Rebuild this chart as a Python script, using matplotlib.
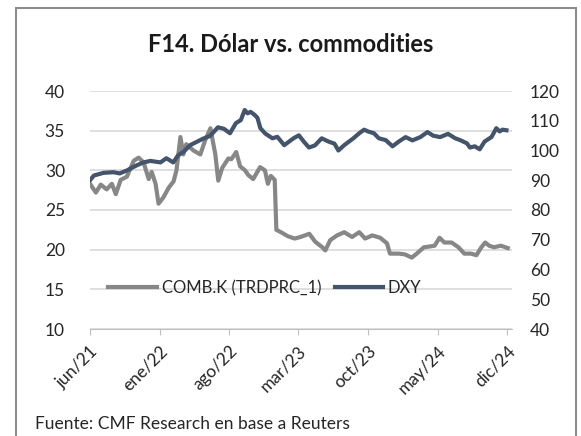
import numpy as np
import pandas as pd
import matplotlib
matplotlib.use('Agg')
import matplotlib.pyplot as plt
from matplotlib.patches import Rectangle

plt.rcParams['font.family'] = ['Lato', 'DejaVu Sans']

# COMB.K (TRDPRC_1) - left axis
comb_dates = [
    '2021-06-01', '2021-06-19', '2021-07-04', '2021-07-22', '2021-08-07', '2021-08-19',
    '2021-09-03', '2021-09-22', '2021-10-13', '2021-10-28', '2021-11-12', '2021-11-28',
    '2021-12-07', '2021-12-19', '2021-12-28', '2022-01-12', '2022-01-28', '2022-02-12',
    '2022-02-21', '2022-03-05', '2022-03-14', '2022-03-23', '2022-04-14', '2022-05-05',
    '2022-05-20', '2022-06-05', '2022-06-20', '2022-06-29', '2022-07-11', '2022-07-30',
    '2022-08-08', '2022-08-23', '2022-09-04', '2022-09-19', '2022-09-29', '2022-10-14',
    '2022-11-04', '2022-11-19', '2022-11-28', '2022-12-07', '2022-12-19', '2022-12-24',
    '2023-01-07', '2023-01-28', '2023-02-18', '2023-03-08', '2023-04-04', '2023-04-22',
    '2023-05-14', '2023-05-23', '2023-06-07', '2023-06-28', '2023-07-20', '2023-08-13',
    '2023-09-04', '2023-09-22', '2023-10-14', '2023-11-07', '2023-11-28', '2023-12-07',
    '2024-01-04', '2024-01-22', '2024-02-12', '2024-02-27', '2024-03-20', '2024-04-07',
    '2024-04-22', '2024-05-07', '2024-05-22', '2024-06-13', '2024-07-04', '2024-07-22',
    '2024-08-12', '2024-08-28', '2024-09-12', '2024-09-24', '2024-10-06', '2024-10-21',
    '2024-11-11', '2024-12-02',
]
comb_values = [
    28.3, 27.2, 28.2, 27.6, 28.3, 27.0,
    28.8, 29.2, 31.2, 31.6, 31.0, 28.9,
    29.8, 28.3, 25.8, 26.6, 27.8, 28.6,
    30.0, 34.2, 32.0, 33.3, 32.5, 32.0,
    33.8, 35.3, 32.0, 28.7, 30.3, 31.5,
    31.4, 32.3, 30.5, 30.0, 29.4, 28.9,
    30.4, 30.0, 28.3, 29.3, 28.8, 22.5,
    22.2, 21.7, 21.4, 21.6, 22.0, 21.0,
    20.3, 19.9, 21.2, 21.8, 22.2, 21.6,
    22.2, 21.4, 21.8, 21.5, 20.8, 19.5,
    19.5, 19.4, 19.0, 19.5, 20.3, 20.4,
    20.5, 21.5, 20.9, 20.9, 20.3, 19.5,
    19.5, 19.3, 20.3, 20.9, 20.5, 20.3,
    20.5, 20.2,
]

# DXY - right axis
dxy_dates = [
    '2021-06-01', '2021-06-13', '2021-07-13', '2021-08-12', '2021-08-31', '2021-09-22',
    '2021-10-22', '2021-11-12', '2021-12-03', '2022-01-03', '2022-01-21', '2022-02-11',
    '2022-02-26', '2022-03-14', '2022-04-04', '2022-04-22', '2022-05-14', '2022-06-04',
    '2022-06-28', '2022-07-16', '2022-08-04', '2022-08-22', '2022-09-06', '2022-09-18',
    '2022-09-27', '2022-10-06', '2022-10-18', '2022-10-27', '2022-11-05', '2022-11-20',
    '2022-12-12', '2022-12-27', '2023-01-17', '2023-02-01', '2023-02-16', '2023-03-03',
    '2023-03-18', '2023-04-03', '2023-04-21', '2023-05-12', '2023-06-02', '2023-06-20',
    '2023-07-02', '2023-07-20', '2023-08-17', '2023-09-04', '2023-09-19', '2023-10-01',
    '2023-10-19', '2023-11-03', '2023-11-24', '2023-12-15', '2024-01-03', '2024-01-24',
    '2024-02-14', '2024-03-09', '2024-03-31', '2024-04-17', '2024-05-09', '2024-06-02',
    '2024-06-24', '2024-07-09', '2024-07-30', '2024-08-08', '2024-08-23', '2024-09-07',
    '2024-09-22', '2024-10-13', '2024-10-28', '2024-11-07', '2024-11-16', '2024-11-28',
]
dxy_values = [
    90.0, 91.6, 92.5, 92.7, 92.3, 93.3,
    95.0, 96.0, 96.5, 96.0, 97.4, 96.0,
    98.4, 99.5, 101.8, 102.8, 104.0, 104.9,
    107.8, 107.3, 105.8, 109.2, 110.2, 113.6,
    112.5, 113.0, 112.0, 111.0, 107.5, 105.7,
    104.1, 104.6, 101.8, 103.0, 104.2, 105.1,
    103.0, 101.0, 101.7, 104.1, 103.0, 102.3,
    100.0, 101.8, 104.1, 105.8, 107.0, 106.4,
    105.8, 104.1, 103.5, 101.4, 103.0, 104.5,
    103.4, 104.5, 106.2, 105.0, 104.5, 105.6,
    104.1, 103.5, 102.4, 101.0, 101.4, 100.4,
    103.0, 104.5, 107.5, 106.4, 107.0, 106.8,
]

tick_dates = ['2021-06-01', '2022-01-01', '2022-08-01', '2023-03-01',
              '2023-10-01', '2024-05-01', '2024-12-01']
tick_labels = ['jun/21', 'ene/22', 'ago/22', 'mar/23', 'oct/23', 'may/24', 'dic/24']

gray = '#878787'
navy = '#44546a'

fig = plt.figure(figsize=(5.81, 4.36), dpi=100)
# outer frame of the exhibit
fig.patches.append(Rectangle((16 / 581, -0.05), 560 / 581, 1 - 8 / 436 + 0.05,
                             transform=fig.transFigure, fill=False,
                             edgecolor='#8c8c8c', linewidth=1.5))

ax = fig.add_axes([90 / 581, 1 - 329 / 436, 422 / 581, 238 / 436])
ax2 = ax.twinx()

l1, = ax.plot(pd.to_datetime(comb_dates), comb_values, color=gray, lw=3.0,
              label='COMB.K (TRDPRC_1)')
l2, = ax2.plot(pd.to_datetime(dxy_dates), dxy_values, color=navy, lw=3.0,
               label='DXY')

ax.set_ylim(10, 40)
ax.set_yticks(range(10, 41, 5))
ax2.set_ylim(40, 120)
ax2.set_yticks(range(40, 121, 10))
ax.set_xlim(pd.Timestamp('2021-06-01'), pd.Timestamp('2024-12-15'))
ax.set_xticks(pd.to_datetime(tick_dates))
ax.set_xticklabels(tick_labels, rotation=45, ha='right', rotation_mode='anchor')

ax.yaxis.grid(True, color='#d9d9d9', lw=1.2)
ax.set_axisbelow(True)
for a in (ax, ax2):
    for s in ('top', 'left', 'right'):
        a.spines[s].set_visible(False)
    a.spines['bottom'].set_color('#bfbfbf')
ax2.spines['bottom'].set_visible(False)

ax.tick_params(axis='y', length=0, pad=18, labelsize=12.5, labelcolor='#262626')
ax2.tick_params(axis='y', length=0, pad=13, labelsize=12.5, labelcolor='#262626')
ax.tick_params(axis='x', length=4, color='#bfbfbf', pad=6, labelsize=12.5,
               labelcolor='#262626')

fig.text(0.5, 1 - 45 / 436, 'F14. Dólar vs. commodities', ha='center', va='center',
         fontsize=17, fontweight='bold', color='#1a1a1a')
fig.text(35 / 581, 1 - 424 / 436, 'Fuente: CMF Research en base a Reuters',
         ha='left', va='center', fontsize=12.5, color='#262626')

fig.legend(handles=[l1, l2], loc='center', ncol=2, frameon=False,
           bbox_to_anchor=(265 / 581, 1 - 288 / 436), fontsize=12,
           handlelength=2.9, columnspacing=0.8, handletextpad=0.3,
           labelcolor='#262626')

fig.savefig('out.png', dpi=100)
